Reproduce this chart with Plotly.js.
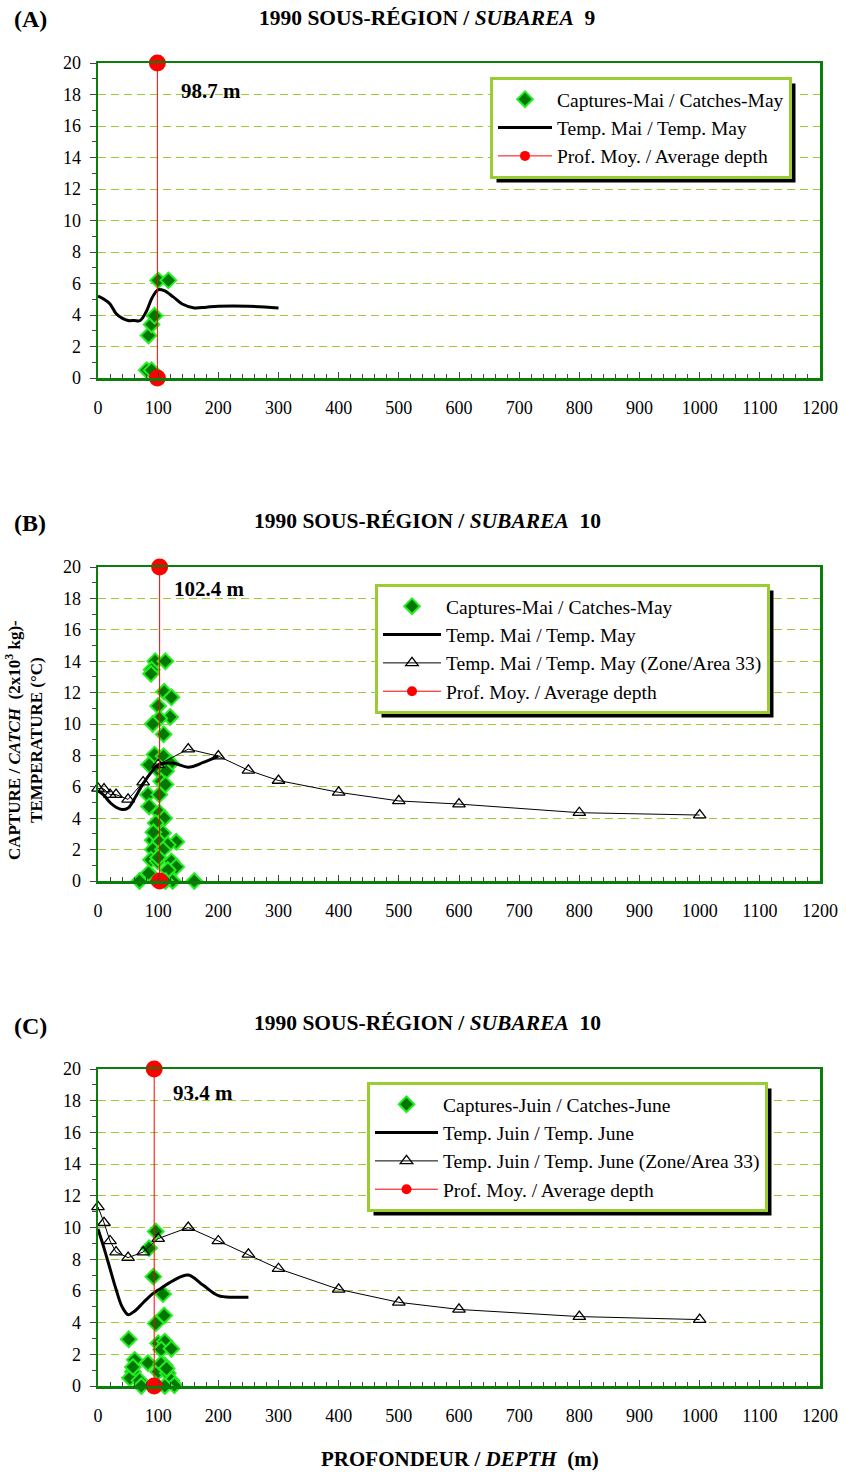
<!DOCTYPE html>
<html>
<head>
<meta charset="utf-8">
<script src="https://cdn.plot.ly/plotly-3.0.1.min.js"></script>
<style>html,body{margin:0;padding:0;background:#fff;}#chart{width:846px;height:1472px;}</style>
</head>
<body>
<div id="chart"></div>
<script>
// ---------- Panel A : 1990 Subarea 9, May ----------
const catchDepthA = [81, 89, 84, 89, 94, 100, 117];
const catchA      = [0.5, 0.5, 2.7, 3.4, 3.95, 6.2, 6.2];
const tempDepthA  = [0,10,20,30,40,50,60,70,80,90,100,110,125,140,160,180,200,250,300];
const tempA       = [5.2,5.0,4.7,4.1,3.8,3.65,3.65,3.65,4.2,5.1,5.6,5.55,5.15,4.7,4.45,4.5,4.55,4.55,4.45];
const avgDepthA   = 98.7;

// ---------- Panel B : 1990 Subarea 10, May ----------
const catchDepthB = [95,112,89,88,110,122,100,120,102,91,109,94,109,85,121,102,113,105,83,102,112,85,102,110,99,108,91,130,102,116,91,108,88,99,122,130,116,69,160,124,91,112,96,92,100,84];
const catchB      = [14.0,14.0,13.45,13.2,12.05,11.7,11.15,10.45,10.35,10.0,9.35,8.05,7.95,7.4,7.5,7.0,7.0,6.35,5.5,5.5,6.15,4.75,4.35,4.0,3.35,3.05,2.6,2.5,2.5,2.3,2.0,2.0,1.35,1.25,1.25,0.9,0.7,0,0,0,0.25,0,3.7,3.1,1.5,0.5];
const tempDepthB  = [0,10,20,30,40,50,60,75,90,100,125,150,175,200];
const tempB       = [5.75,5.45,5.0,4.7,4.55,4.65,5.2,6.2,7.0,7.4,7.5,7.25,7.55,7.95];
const zoneDepthB  = [0,10,20,30,50,75,100,150,200,250,300,400,500,600,800,1000];
const zoneTempB   = [5.9,5.85,5.5,5.5,5.2,6.3,7.4,8.4,7.95,7.05,6.4,5.65,5.1,4.9,4.35,4.2];
const avgDepthB   = 102.4;

// ---------- Panel C : 1990 Subarea 10, June ----------
const catchDepthC = [96,85,92,108,110,96,51,100,111,105,122,61,83,111,58,100,116,53,69,122,127,72,111,58,105,114];
const catchC      = [9.75,8.7,6.9,5.8,4.45,3.95,2.95,2.7,2.8,2.3,2.35,1.65,1.45,1.3,0.9,0.9,0.8,0.5,0.35,0.35,0.05,0,0,1.2,1.4,1.1];
const tempDepthC  = [0,10,20,30,40,50,60,75,90,100,125,150,175,200,225,250];
const tempC       = [9.9,8.7,7.4,6.1,5.0,4.5,4.7,5.25,5.8,6.05,6.65,7.0,6.35,5.7,5.6,5.6];
const zoneDepthC  = [0,10,20,30,50,75,100,150,200,250,300,400,500,600,800,1000];
const zoneTempC   = [11.3,10.3,9.15,8.45,8.1,8.45,9.3,10.0,9.15,8.3,7.4,6.1,5.28,4.83,4.38,4.19];
const avgDepthC   = 93.4;

const depthTicks = [0,100,200,300,400,500,600,700,800,900,1000,1100,1200];
const tempTicks  = [0,2,4,6,8,10,12,14,16,18,20];

// ---------- styling ----------
const SERIF = 'Liberation Serif';
const GRID = '#9acd32';
const AXIS = '#0b7d0b';
const W = 846, H = 1472;
const px = v => v / W;
const py = v => 1 - v / H;

const diamond = {symbol:'diamond', size:12, color:'#007800', line:{color:'#22ee22', width:2}};
const avgMarker = {size:17, color:'#ff0000'};
const avgLegendMarker = {size:10, color:'#ff0000'};
const triMarker = {symbol:'triangle-up-open', size:11, color:'#000', line:{width:1.3}};

function panel(n, leg, catchX, catchY, catchName, tX, tY, tName, zX, zY, zName, avg) {
  const xa = 'x' + (n === 1 ? '' : n), ya = 'y' + (n === 1 ? '' : n);
  const tr = [];
  tr.push({x:catchX, y:catchY, type:'scatter', mode:'markers', marker:diamond, name:catchName,
           xaxis:xa, yaxis:ya, legend:leg, legendgroup:leg+'a', cliponaxis:false});
  tr.push({x:tX, y:tY, type:'scatter', mode:'lines', line:{color:'#000', width:3, shape:'spline', smoothing:1},
           name:tName, xaxis:xa, yaxis:ya, legend:leg, legendgroup:leg+'b'});
  if (zX) tr.push({x:zX, y:zY, type:'scatter', mode:'lines+markers', line:{color:'#000', width:1},
           marker:triMarker, name:zName, xaxis:xa, yaxis:ya, legend:leg, legendgroup:leg+'c', cliponaxis:false});
  // average depth line (drawn), and its legend entry with a smaller symbol
  tr.push({x:[avg, avg], y:[0, 20], type:'scatter', mode:'lines+markers', line:{color:'#ff0000', width:1},
           marker:avgMarker, showlegend:false, xaxis:xa, yaxis:ya, legend:leg,
           legendgroup:leg+'d', cliponaxis:false, name:'Prof. Moy. / Average depth'});
  tr.push({x:[avg], y:[null], type:'scatter', mode:'lines+markers', line:{color:'#ff0000', width:1},
           marker:avgLegendMarker, name:'Prof. Moy. / Average depth', xaxis:xa, yaxis:ya, legend:leg,
           legendgroup:leg+'d'});
  return tr;
}

const data = [].concat(
  panel(1, 'legend', catchDepthA, catchA, 'Captures-Mai / Catches-May', tempDepthA, tempA,
        'Temp. Mai / Temp. May', null, null, null, avgDepthA),
  panel(2, 'legend2', catchDepthB, catchB, 'Captures-Mai / Catches-May', tempDepthB, tempB,
        'Temp. Mai / Temp. May', zoneDepthB, zoneTempB, 'Temp. Mai / Temp. May (Zone/Area 33)', avgDepthB),
  panel(3, 'legend3', catchDepthC, catchC, 'Captures-Juin / Catches-June', tempDepthC, tempC,
        'Temp. Juin / Temp. June', zoneDepthC, zoneTempC, 'Temp. Juin / Temp. June (Zone/Area 33)', avgDepthC)
);

function xAxis(anchor, dom) {
  return {domain:dom, anchor:anchor, range:[0,1200], tickvals:depthTicks, ticktext:depthTicks.map(String),
    ticks:'inside', ticklen:6, tickcolor:'#444', tickwidth:1,
    minor:{dtick:20, tick0:0, ticks:'inside', ticklen:4, tickcolor:'#444', showgrid:false},
    showline:true, mirror:true, linecolor:AXIS, linewidth:2.5, showgrid:false, zeroline:false,
    tickfont:{family:SERIF, size:18, color:'#000'}, ticklabelstandoff:12, fixedrange:true};
}
function yAxis(anchor, dom) {
  return {domain:dom, anchor:anchor, range:[0,20], tickvals:tempTicks, ticktext:tempTicks.map(String),
    ticks:'outside', ticklen:6, tickcolor:'#444', tickwidth:1,
    minor:{dtick:1, tick0:0, ticks:'outside', ticklen:4, tickcolor:'#444', showgrid:false},
    showgrid:true, gridcolor:GRID, griddash:'8px,5px', gridwidth:1,
    showline:true, mirror:true, linecolor:AXIS, linewidth:2.5, zeroline:false,
    tickfont:{family:SERIF, size:18, color:'#000'}, ticklabelstandoff:5, fixedrange:true};
}
const xd = [px(98), px(820)];
const legBase = {font:{family:SERIF, size:19.5, color:'#000'}, bgcolor:'#fff', bordercolor:GRID, borderwidth:3,
  xanchor:'left', yanchor:'top', tracegroupgap:0, traceorder:'grouped'};

const ann = [];
function bold(t, x, y, size, extra) {
  ann.push(Object.assign({text:t, x:px(x), y:py(y), xref:'paper', yref:'paper', showarrow:false,
    xanchor:'center', yanchor:'middle', font:{family:SERIF, size:size, color:'#000'}}, extra || {}));
}
bold('<b>(A)</b>', 30, 19, 24);
bold('<b>(B)</b>', 30, 523, 24);
bold('<b>(C)</b>', 30, 1026, 24);
bold('<b>1990 SOUS-RÉGION / <i>SUBAREA</i>  9</b>', 427, 18, 21.5);
bold('<b>1990 SOUS-RÉGION / <i>SUBAREA</i>  10</b>', 427, 521, 21.5);
bold('<b>1990 SOUS-RÉGION / <i>SUBAREA</i>  10</b>', 427, 1023, 21.5);
bold('<b>PROFONDEUR / <i>DEPTH</i>  (m)</b>', 460, 1459, 21);
bold('<b>CAPTURE / <i>CATCH</i>  (2x10<sup>3</sup> kg)-</b><br><b>TEMPERATURE (°C)</b>', 24, 740, 17, {textangle:-90});
function dAnn(v, x, y, xr, yr) {
  ann.push({text:'<b>' + v + ' m</b>', x:x, y:y, xref:xr, yref:yr, showarrow:false,
    xanchor:'center', yanchor:'middle', font:{family:SERIF, size:21, color:'#000'}});
}
dAnn(avgDepthA, 188, 18.2, 'x', 'y');
dAnn(avgDepthB, 185, 18.6, 'x2', 'y2');
dAnn(avgDepthC, 175, 18.5, 'x3', 'y3');

const layout = {
  width:W, height:H, autosize:false, margin:{l:0, r:0, t:0, b:0},
  paper_bgcolor:'#fff', plot_bgcolor:'#fff', showlegend:true,
  font:{family:SERIF, color:'#000'},
  xaxis:xAxis('y', xd), yaxis:yAxis('x', [py(378), py(63)]),
  xaxis2:xAxis('y2', xd), yaxis2:yAxis('x2', [py(881), py(567)]),
  xaxis3:xAxis('y3', xd), yaxis3:yAxis('x3', [py(1386), py(1069)]),
  legend:Object.assign({x:px(490), y:py(77), itemwidth:54}, legBase),
  legend2:Object.assign({x:px(375), y:py(584), itemwidth:58}, legBase),
  legend3:Object.assign({x:px(367), y:py(1082), itemwidth:63}, legBase),
  annotations:ann
};

const gd = document.getElementById('chart');
Plotly.newPlot(gd, data, layout, {displayModeBar:false, staticPlot:true}).then(function () {
  // black drop shadow behind each legend box, measured from the rendered legends
  const host = gd.getBoundingClientRect();
  const shapes = [];
  ['legend', 'legend2', 'legend3'].forEach(function (name) {
    const g = gd.querySelector('.infolayer > g.' + name);
    if (!g) return;
    const bg = g.querySelector('rect.bg');
    if (!bg) return;
    const r = bg.getBoundingClientRect();
    const x0 = r.left - host.left, y0 = r.top - host.top;
    const x1 = x0 + r.width, y1 = y0 + r.height;
    shapes.push({type:'rect', xref:'paper', yref:'paper', x0:px(x0 + 5), x1:px(x1 + 5),
      y0:py(y1 + 5), y1:py(y0 + 5), fillcolor:'#000', line:{width:0}, layer:'above'});
  });
  return Plotly.relayout(gd, {shapes:shapes});
});
</script>
</body>
</html>
